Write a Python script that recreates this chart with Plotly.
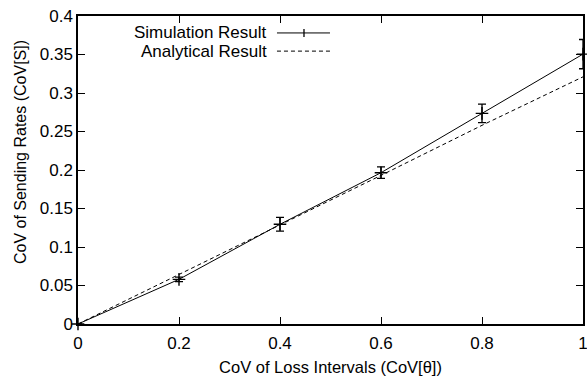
import plotly.graph_objects as go

x_vals = [0, 0.2, 0.4, 0.6, 0.8, 1.0]
sim_vals = [0, 0.058, 0.1295, 0.1965, 0.2735, 0.3505]
sim_err = [0, 0.003, 0.009, 0.0075, 0.012, 0.019]
ana_vals = [0, 0.064, 0.128, 0.193, 0.258, 0.321]
x_ticks = [0, 0.2, 0.4, 0.6, 0.8, 1]
x_tick_labels = ["0", "0.2", "0.4", "0.6", "0.8", "1"]
y_ticks = [0, 0.05, 0.1, 0.15, 0.2, 0.25, 0.3, 0.35, 0.4]
y_tick_labels = ["0", "0.05", "0.1", "0.15", "0.2", "0.25", "0.3", "0.35", "0.4"]
series_names = ["Simulation Result", "Analytical Result"]
x_title = "CoV of Loss Intervals (CoV[θ])"
y_title = "CoV of Sending Rates (CoV[S])"

FONT = "Liberation Sans, Arial, sans-serif"

fig = go.Figure()
fig.add_trace(go.Scatter(
    x=x_vals, y=ana_vals, mode="lines", name=series_names[1],
    line=dict(color="black", width=1, dash="4px,3px"), cliponaxis=False,
    showlegend=False))
fig.add_trace(go.Scatter(
    x=x_vals, y=sim_vals, mode="lines+markers", name=series_names[0],
    line=dict(color="black", width=1),
    marker=dict(symbol="cross-thin", size=9, line=dict(color="black", width=1.4)),
    error_y=dict(type="data", array=sim_err, visible=True, color="black",
                 thickness=1.3, width=4),
    cliponaxis=False, showlegend=False))

axis_common = dict(
    showline=True, linecolor="black", linewidth=1.5, mirror="ticks",
    ticks="inside", ticklen=7, tickwidth=1, tickcolor="black",
    showgrid=False, zeroline=False, automargin=False,
    ticklabeloverflow="allow",
    tickfont=dict(family=FONT, size=17, color="black"),
)

fig.update_layout(
    width=587, height=376,
    margin=dict(l=78, r=4, t=16, b=52),
    paper_bgcolor="white", plot_bgcolor="white",
    xaxis=dict(range=[0, 1], tickvals=x_ticks, ticktext=x_tick_labels,
               ticklabelstandoff=3,
               title=dict(text=x_title,
                          font=dict(family=FONT, size=16.5, color="black"),
                          standoff=12),
               **axis_common),
    yaxis=dict(range=[0, 0.4], tickvals=y_ticks, ticktext=y_tick_labels,
               **axis_common),
)

fig.add_annotation(x=-0.115, y=0.558, xref="paper", yref="paper", text=y_title,
                   textangle=-90, showarrow=False, xanchor="center", yanchor="middle",
                   font=dict(family=FONT, size=16, color="black"))

# manual legend (text right-aligned, sample on the right, gnuplot style)
legend_rows = [(0.945, "solid", True), (0.886, "4px,3px", False)]
for (yp, dash, cross), name in zip(legend_rows, series_names):
    fig.add_annotation(x=0.378, y=yp, xref="paper", yref="paper", text=name,
                       showarrow=False, xanchor="right", yanchor="middle",
                       font=dict(family=FONT, size=17, color="black"))
    fig.add_shape(type="line", xref="paper", yref="paper",
                  x0=0.394, x1=0.499, y0=yp, y1=yp,
                  line=dict(color="black", width=1, dash=dash))
    if cross:
        fig.add_shape(type="line", xref="paper", yref="paper",
                      x0=0.4475, x1=0.4475, y0=yp - 0.013, y1=yp + 0.013,
                      line=dict(color="black", width=1.3))

fig.write_html("out.html")
